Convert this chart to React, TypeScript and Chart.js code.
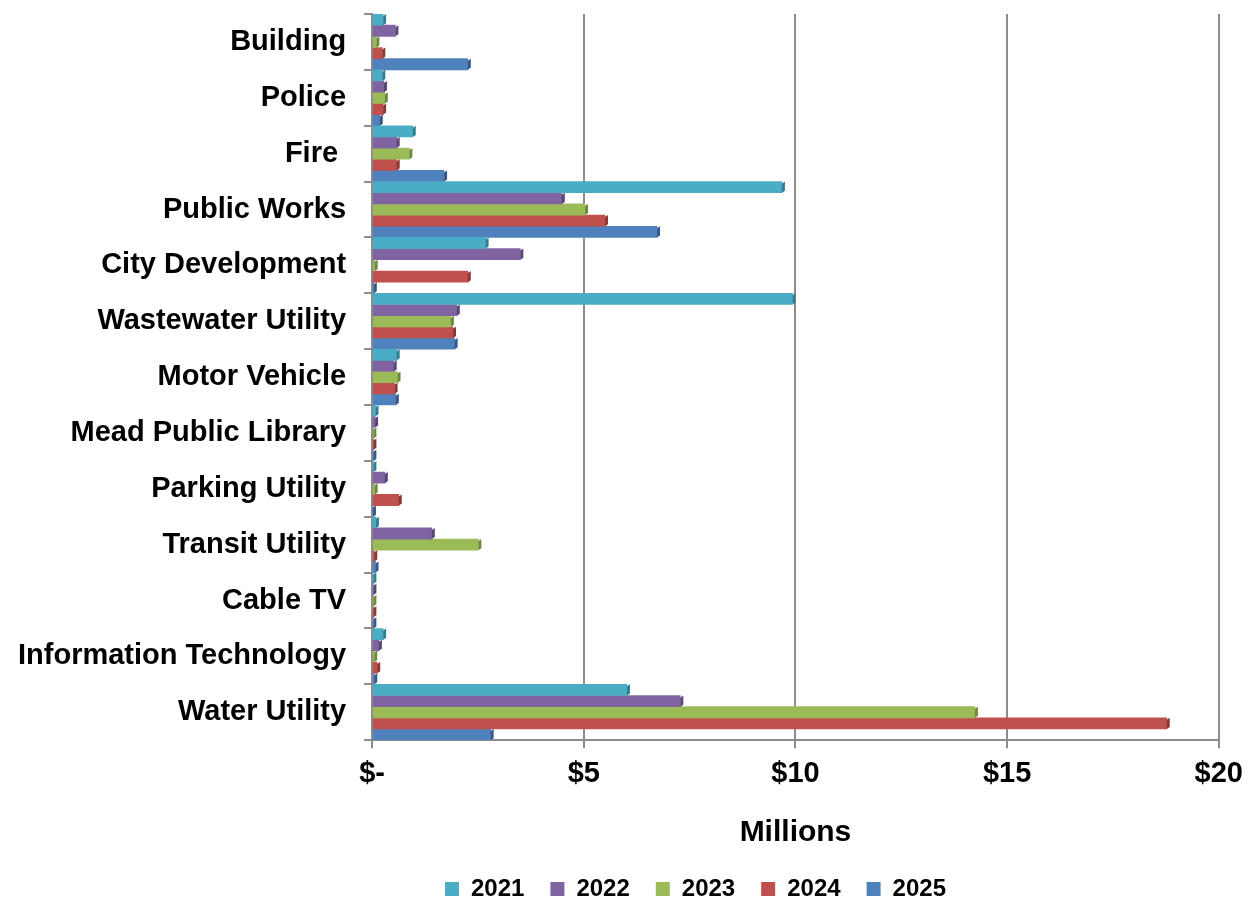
import React, { useEffect, useRef } from "react";
import { Chart, registerables } from "chart.js";

Chart.register(...registerables);

const categories = [
  "Building",
  "Police",
  "Fire ",
  "Public Works",
  "City Development",
  "Wastewater Utility",
  "Motor Vehicle",
  "Mead Public Library",
  "Parking Utility",
  "Transit Utility",
  "Cable TV",
  "Information Technology",
  "Water Utility",
];

const years = ["2021", "2022", "2023", "2024", "2025"];

const values2021 = [0.26, 0.24, 0.96, 9.68, 2.68, 9.93, 0.58, 0.08, 0.03, 0.09, 0.03, 0.26, 6.02];
const values2022 = [0.55, 0.28, 0.58, 4.48, 3.5, 2.0, 0.51, 0.07, 0.3, 1.41, 0.03, 0.16, 7.28];
const values2023 = [0.1, 0.3, 0.88, 5.03, 0.06, 1.86, 0.6, 0.03, 0.06, 2.51, 0.03, 0.05, 14.24];
const values2024 = [0.24, 0.26, 0.58, 5.5, 2.26, 1.91, 0.53, 0.03, 0.63, 0.05, 0.03, 0.12, 18.77];
const values2025 = [2.26, 0.18, 1.7, 6.73, 0.04, 1.95, 0.56, 0.03, 0.02, 0.08, 0.03, 0.05, 2.8];

const seriesValues = [values2021, values2022, values2023, values2024, values2025];
const seriesColors = ["#4BACC6", "#8064A2", "#9BBB59", "#C0504D", "#4F81BD"];
const seriesDark = ["#2E7F94", "#5A4578", "#6F8A3B", "#8E3533", "#35598A"];

const xTicks = [0, 5, 10, 15, 20];

const FONT = "'Liberation Sans', Arial, sans-serif";

const depthPlugin = {
  id: "depth3d",
  afterDatasetsDraw(chart: any) {
    const ctx = chart.ctx;
    chart.data.datasets.forEach((ds: any, i: number) => {
      const meta = chart.getDatasetMeta(i);
      meta.data.forEach((bar: any) => {
        const { x, y, height } = bar.getProps(["x", "y", "height"], true);
        const top = y - height / 2;
        const bot = y + height / 2;
        ctx.save();
        ctx.fillStyle = seriesDark[i];
        ctx.beginPath();
        ctx.moveTo(x, top + 2);
        ctx.lineTo(x + 3, top);
        ctx.lineTo(x + 3, bot - 2);
        ctx.lineTo(x, bot);
        ctx.closePath();
        ctx.fill();
        ctx.restore();
      });
    });
  },
};

const legendShiftPlugin = {
  id: "legendShift",
  afterLayout(chart: any) {
    const lg = chart.legend;
    if (lg) {
      lg.left += 74;
      lg.right += 74;
    }
  },
};

export default function App() {
  const ref = useRef<HTMLCanvasElement | null>(null);

  useEffect(() => {
    document.body.style.margin = "0";
    const canvas = ref.current;
    if (!canvas) return;
    const chart = new Chart(canvas, {
      type: "bar",
      data: {
        labels: categories,
        datasets: years.map((y, i) => ({
          label: y,
          data: seriesValues[i],
          backgroundColor: seriesColors[i],
          borderWidth: 0,
          categoryPercentage: 1.0,
          barPercentage: 1.0,
        })),
      },
      options: {
        indexAxis: "y",
        animation: false,
        responsive: false,
        maintainAspectRatio: false,
        layout: { padding: { top: 14, right: 8, left: 0, bottom: -6 } },
        plugins: {
          legend: {
            position: "bottom",
            labels: {
              boxWidth: 14,
              boxHeight: 14,
              padding: 26,
              color: "#000",
              font: { family: FONT, size: 24, weight: "bold" },
            },
          },
          tooltip: { enabled: false },
        },
        scales: {
          x: {
            min: 0,
            max: 20,
            afterBuildTicks: (axis: any) => {
              axis.ticks = xTicks.map((v) => ({ value: v }));
            },
            ticks: {
              color: "#000",
              font: { family: FONT, size: 29, weight: "bold" },
              padding: 8,
              callback: (v: any) => (Number(v) === 0 ? "$-" : "$" + v),
              maxRotation: 0,
            },
            grid: {
              color: "#8C8C8C",
              lineWidth: 2,
              drawTicks: true,
              tickLength: 8,
            },
            border: { display: true, color: "#8C8C8C", width: 2 },
            title: {
              display: true,
              text: "Millions",
              color: "#000",
              font: { family: FONT, size: 30, weight: "bold" },
              padding: { top: 16, bottom: 0 },
            },
          },
          y: {
            afterFit: (scale: any) => {
              scale.paddingTop = 0;
              scale.paddingBottom = 0;
            },
            ticks: {
              color: "#000",
              font: { family: FONT, size: 29, weight: "bold" },
              padding: 18,
              autoSkip: false,
            },
            grid: {
              display: true,
              drawOnChartArea: false,
              drawTicks: true,
              tickLength: 8,
              color: "#8C8C8C",
              lineWidth: 2,
              offset: true,
            },
            border: { display: true, color: "#8C8C8C", width: 2 },
          },
        },
      },
      plugins: [depthPlugin, legendShiftPlugin],
    });
    return () => chart.destroy();
  }, []);

  return (
    <div style={{ position: "absolute", left: 0, top: 0, width: 1251, height: 905, background: "#fff" }}>
      <canvas ref={ref} width={1251} height={905} style={{ width: 1251, height: 905 }} />
    </div>
  );
}
